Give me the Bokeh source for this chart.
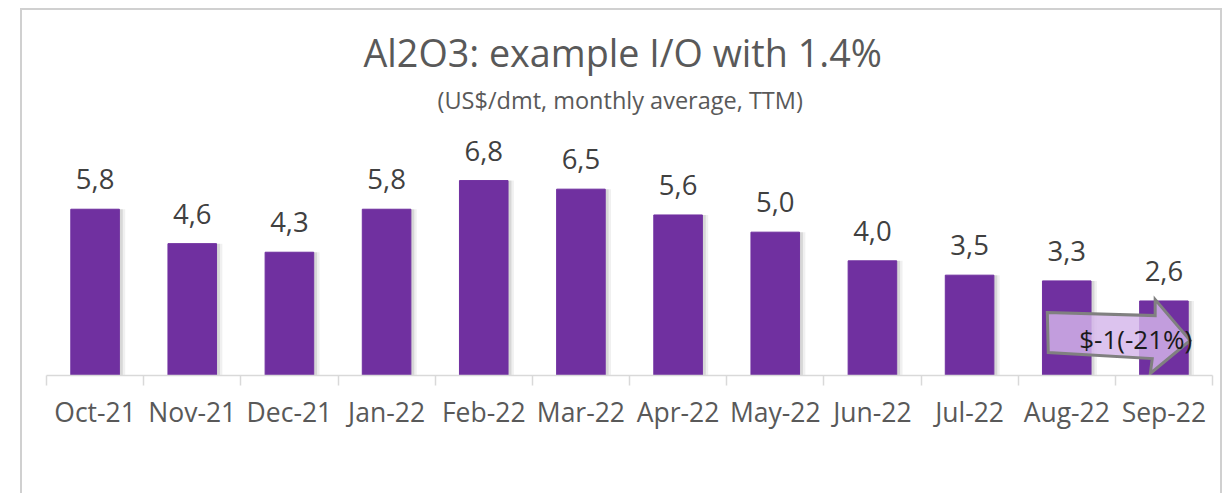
from bokeh.plotting import figure
from bokeh.models import Range1d, LinearAxis, FixedTicker, Title, ColumnDataSource
from bokeh.transform import dodge
from bokeh.core.properties import value
from bokeh.embed import file_html
from bokeh.resources import INLINE

# ---- data ----
months = ["Oct-21", "Nov-21", "Dec-21", "Jan-22", "Feb-22", "Mar-22",
          "Apr-22", "May-22", "Jun-22", "Jul-22", "Aug-22", "Sep-22"]
prices = [5.8, 4.6, 4.3, 5.8, 6.8, 6.5, 5.6, 5.0, 4.0, 3.5, 3.3, 2.6]
title_text = "Al2O3: example I/O with 1.4%"
subtitle_text = "(US$/dmt, monthly average, TTM)"

FONT = "Open Sans"
TXT = "#595959"
GRID = "#d9d9d9"
PURPLE = "#7030A0"

n = len(months)
xs = [i + 0.5 for i in range(n)]
labels = [f"{v:.1f}".replace(".", ",") for v in prices]
src = ColumnDataSource(dict(x=xs, top=prices, label=labels))

p = figure(width=1202, height=485,
           x_range=Range1d(0, n), y_range=Range1d(0, 9.0),
           output_backend="svg", toolbar_location=None,
           x_axis_type=None, y_axis_type=None,
           min_border_left=24, min_border_right=12,
           min_border_top=107, min_border_bottom=120)
p.outline_line_color = None
p.background_fill_color = "white"
p.border_fill_color = "white"
p.styles = {"margin-left": "20px", "margin-top": "8px",
            "border-top": "2px solid #d0d0d0",
            "border-left": "2px solid #d0d0d0",
            "border-right": "2px solid #d0d0d0"}

# titles
p.title.text = title_text
p.title.align = "left"
p.title.offset = 317
p.title.text_font = FONT
p.title.text_font_size = "37.7px"
p.title.text_font_style = "normal"
p.title.text_color = TXT
p.title.standoff = 4
sub = Title(text=subtitle_text, align="left", offset=391, text_font=FONT,
            text_font_size="23.5px", text_font_style="normal",
            text_color=TXT, standoff=4)
p.add_layout(sub, "above")

# x axis
ax = LinearAxis(ticker=FixedTicker(ticks=xs, minor_ticks=list(range(n + 1))))
ax.major_label_overrides = {x: m for x, m in zip(xs, months)}
ax.axis_line_color = GRID
ax.axis_line_width = 1.5
ax.major_tick_line_color = None
ax.major_tick_out = 0
ax.major_tick_in = 0
ax.minor_tick_line_color = GRID
ax.minor_tick_line_width = 1.5
ax.minor_tick_out = 10
ax.minor_tick_in = 0
ax.major_label_text_font = FONT
ax.major_label_text_font_size = "26.5px"
ax.major_label_text_color = TXT
ax.major_label_standoff = 8
p.add_layout(ax, "below")

# bar shadows
p.vbar(x=dodge("x", 0.06, range=p.x_range), top="top", width=0.5, bottom=0,
       source=src, fill_color="black", fill_alpha=0.06, line_color=None)
p.vbar(x=dodge("x", 0.035, range=p.x_range), top="top", width=0.5, bottom=0,
       source=src, fill_color="black", fill_alpha=0.10, line_color=None)
# bars
p.vbar(x="x", top="top", width=0.5, bottom=0, source=src,
       fill_color=PURPLE, line_color=PURPLE)

# data labels
p.text(x="x", y="top", text="label", source=src, text_align="center",
       text_baseline="alphabetic", y_offset=-30,
       text_font=value(FONT), text_font_size="27.5px", text_color="#404040")

# change arrow between the last two months
diff = prices[-1] - prices[-2]
pct = round(100 * diff / prices[-2])
arrow_label = f"${round(diff):d}({pct:d}%)"
a = n - 2  # index of previous month
ax_pts = [a + 0.30, a + 1.41, a + 1.41, a + 1.77, a + 1.36, a + 1.38, a + 0.31]
ay_pts = [2.20, 2.09, 2.65, 1.22, 0.07, 0.59, 0.80]
p.patch(ax_pts, ay_pts, fill_color="#d4b6ea", fill_alpha=0.82,
        line_color="#808080", line_width=3, line_join="miter")
p.text(x=[a + 1.21], y=[1.29], text=[arrow_label], text_align="center",
       text_baseline="middle", text_font=value(FONT), text_font_size="26px",
       text_color="#1a1a1a")

open("out.html", "w").write(file_html(p, INLINE))
